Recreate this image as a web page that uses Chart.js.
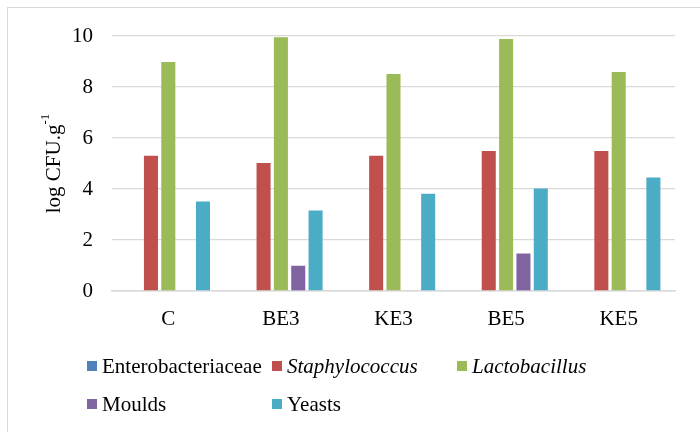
<!DOCTYPE html>
<html>
<head>
<meta charset="utf-8">
<script src="https://cdn.jsdelivr.net/npm/chart.js@4/dist/chart.umd.min.js"></script>
<style>
  html, body { margin: 0; padding: 0; background: #fff; }
  #wrap { position: relative; width: 700px; height: 432px; overflow: hidden; }
  #frame { position: absolute; left: 7px; top: 7px; width: 720px; height: 460px;
           border: 1px solid #d9d9d9; box-sizing: border-box; }
  #chart { position: absolute; left: 0; top: 0; }
  #legend { position: absolute; left: 87px; top: 347px;
            display: grid; grid-template-columns: 185px 185px 185px;
            grid-auto-rows: 38px;
            font-family: 'Liberation Serif', 'Times New Roman', serif; font-size: 21px; color: #000; }
  .item { display: flex; align-items: center; white-space: nowrap; }
  .box { width: 10px; height: 10px; margin-right: 5px; flex: none; }
</style>
</head>
<body>
<div id="wrap">
  <div id="frame"></div>
  <canvas id="chart" width="700" height="432"></canvas>
  <div id="legend"></div>
</div>
<script>
// Samples and microbial counts (log CFU per gram)
const categories = ['C', 'BE3', 'KE3', 'BE5', 'KE5'];
const enterobacteriaceae = [0, 0, 0, 0, 0];
const staphylococcus = [5.30, 5.02, 5.30, 5.49, 5.49];
const lactobacillus = [8.98, 9.95, 8.51, 9.88, 8.59];
const moulds = [0, 0.99, 0, 1.47, 0];
const yeasts = [3.51, 3.16, 3.81, 4.02, 4.45];

const seriesNames = ['Enterobacteriaceae', 'Staphylococcus', 'Lactobacillus', 'Moulds', 'Yeasts'];
const seriesItalic = [false, true, true, false, false];
const seriesColors = ['#4F81BD', '#C0504D', '#9BBB59', '#8064A2', '#4BACC6'];
const seriesData = [enterobacteriaceae, staphylococcus, lactobacillus, moulds, yeasts];

const yTicks = [0, 2, 4, 6, 8, 10];

const FONT = "'Liberation Serif', 'Times New Roman', serif";
Chart.defaults.font.family = FONT;
Chart.defaults.font.size = 21;
Chart.defaults.color = '#000';

// Rotated y-axis title with a superscript exponent
const yTitle = {
  id: 'yTitle',
  afterDraw(chart) {
    const { ctx, chartArea } = chart;
    const main = 'log CFU.g';
    const sup = '-1';
    ctx.save();
    ctx.font = '21px ' + FONT;
    const wMain = ctx.measureText(main).width;
    ctx.font = '13px ' + FONT;
    const wSup = ctx.measureText(sup).width;
    const total = wMain + wSup;
    ctx.translate(54, (chartArea.top + chartArea.bottom) / 2);
    ctx.rotate(-Math.PI / 2);
    ctx.fillStyle = '#000';
    ctx.textBaseline = 'middle';
    ctx.textAlign = 'left';
    ctx.font = '21px ' + FONT;
    ctx.fillText(main, -total / 2, 0);
    ctx.font = '13px ' + FONT;
    ctx.fillText(sup, -total / 2 + wMain, -8);
    ctx.restore();
  }
};

new Chart(document.getElementById('chart'), {
  type: 'bar',
  data: {
    labels: categories,
    datasets: seriesData.map((d, i) => ({
      label: seriesNames[i],
      data: d,
      backgroundColor: seriesColors[i],
      borderWidth: 0,
      categoryPercentage: 0.77,
      barPercentage: 0.81
    }))
  },
  options: {
    responsive: false,
    animation: false,
    layout: { padding: { left: 0, right: 25, top: 36, bottom: 0 } },
    plugins: { legend: { display: false }, tooltip: { enabled: false } },
    scales: {
      x: {
        grid: { display: false },
        border: { display: true, color: '#d9d9d9', width: 1.5 },
        ticks: { padding: 8 },
        afterFit(s) { s.height = 141; }
      },
      y: {
        min: 0, max: 10,
        afterBuildTicks(s) { s.ticks = yTicks.map(v => ({ value: v })); },
        grid: { color: '#d9d9d9', lineWidth: 1.3, drawTicks: false },
        border: { display: false },
        ticks: { padding: 19 },
        afterFit(s) { s.width = 112; }
      }
    }
  },
  plugins: [yTitle]
});

// Legend laid out in fixed columns
const legend = document.getElementById('legend');
seriesNames.forEach((name, i) => {
  const item = document.createElement('div');
  item.className = 'item';
  if (i === 3) item.style.gridColumn = '1';
  const box = document.createElement('span');
  box.className = 'box';
  box.style.background = seriesColors[i];
  const txt = document.createElement('span');
  txt.textContent = name;
  if (seriesItalic[i]) txt.style.fontStyle = 'italic';
  item.appendChild(box);
  item.appendChild(txt);
  legend.appendChild(item);
});
</script>
</body>
</html>
